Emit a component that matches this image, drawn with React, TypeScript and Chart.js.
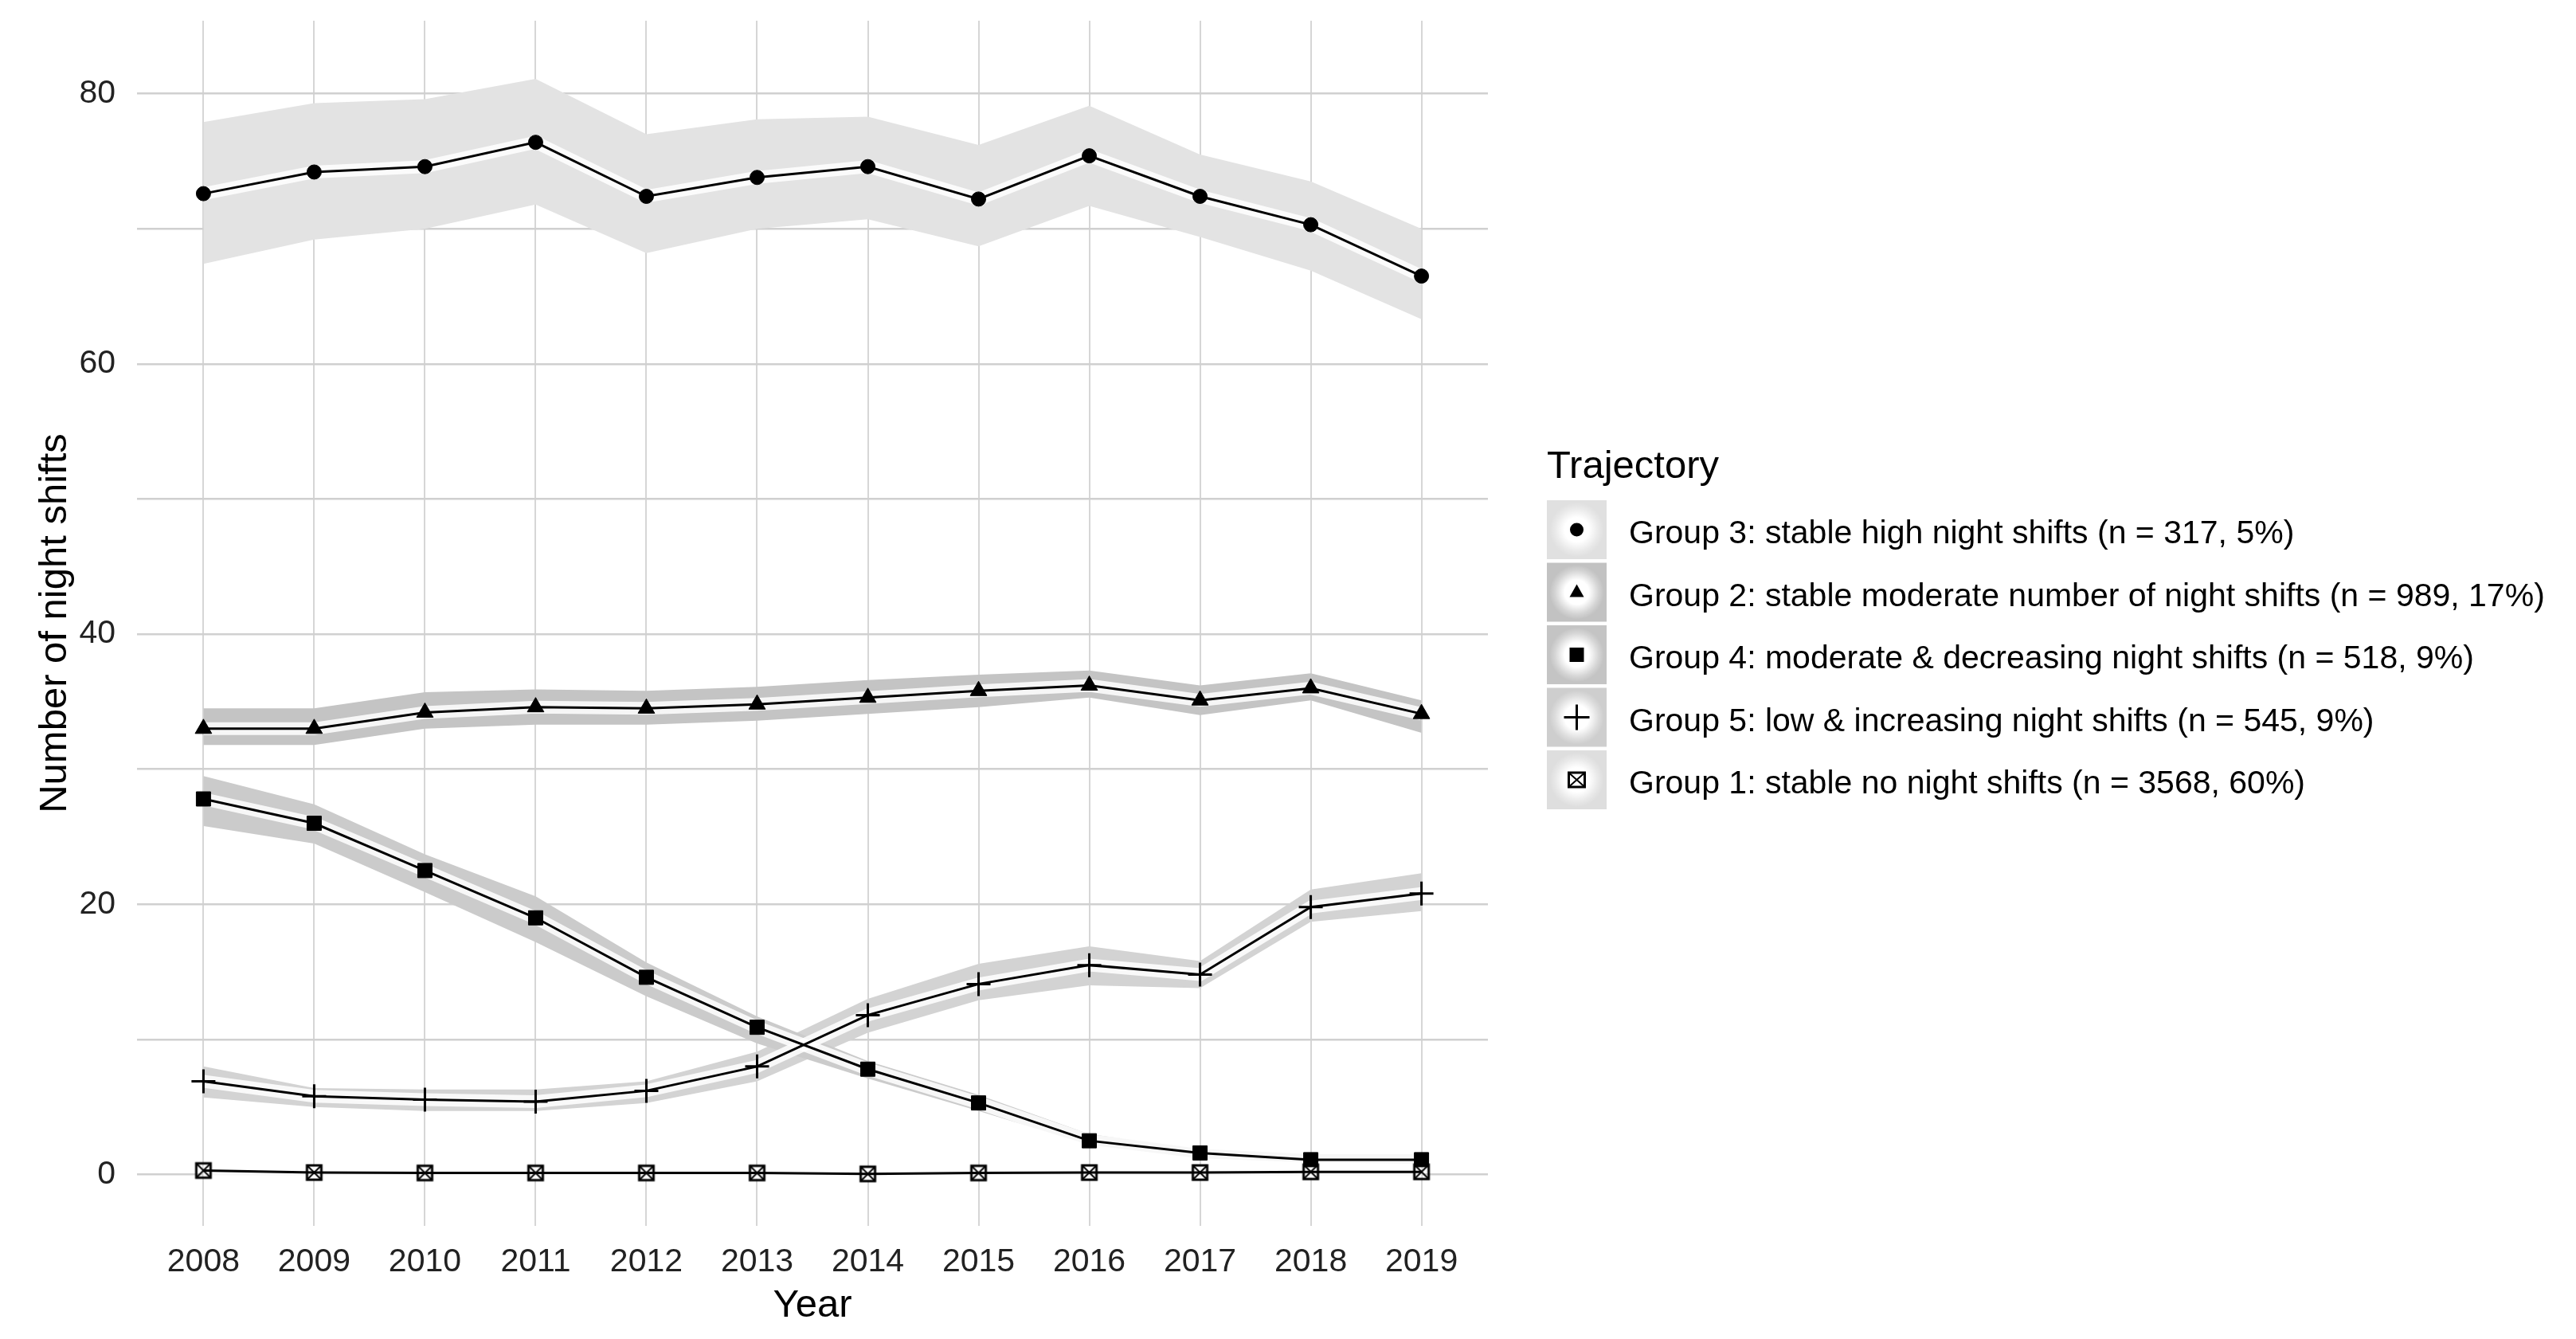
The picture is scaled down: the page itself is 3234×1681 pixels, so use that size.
import React, { useEffect, useRef } from "react";
import { Chart, registerables } from "chart.js";

Chart.register(...registerables);

// ---- data ----
const years = [2008, 2009, 2010, 2011, 2012, 2013, 2014, 2015, 2016, 2017, 2018, 2019];

const g3 = [72.6, 74.2, 74.6, 76.4, 72.4, 73.8, 74.6, 72.2, 75.4, 72.4, 70.3, 66.5];
const g3Upper = [77.9, 79.3, 79.6, 81.1, 77.0, 78.1, 78.3, 76.2, 79.1, 75.5, 73.5, 70.0];
const g3Lower = [67.4, 69.2, 70.0, 71.8, 68.2, 70.0, 70.7, 68.7, 71.7, 69.4, 66.9, 63.3];

const g2 = [33.0, 33.0, 34.2, 34.6, 34.5, 34.8, 35.3, 35.8, 36.2, 35.1, 36.0, 34.1];
const g2Upper = [34.5, 34.5, 35.7, 35.9, 35.8, 36.1, 36.6, 37.0, 37.3, 36.2, 37.1, 35.1];
const g2Lower = [31.8, 31.8, 33.0, 33.3, 33.3, 33.6, 34.1, 34.6, 35.3, 34.0, 35.1, 32.7];

const g4 = [27.8, 26.0, 22.5, 19.0, 14.6, 10.9, 7.8, 5.3, 2.5, 1.6, 1.1, 1.1];
const g4Upper = [29.5, 27.4, 23.7, 20.6, 15.7, 11.7, 8.4, 5.9, 3.0, 1.9, 1.5, 1.5];
const g4Lower = [25.8, 24.5, 20.9, 17.2, 13.2, 9.7, 7.1, 4.7, 2.2, 1.2, 0.9, 0.8];

const g5 = [6.9, 5.8, 5.55, 5.4, 6.2, 8.0, 11.8, 14.1, 15.5, 14.8, 19.8, 20.8];
const g5Upper = [8.0, 6.4, 6.3, 6.3, 6.9, 9.1, 13.0, 15.6, 16.9, 15.8, 21.1, 22.3];
const g5Lower = [5.7, 5.0, 4.7, 4.7, 5.3, 6.9, 10.5, 12.9, 14.0, 13.8, 18.7, 19.5];

const g1 = [0.3, 0.15, 0.12, 0.12, 0.12, 0.12, 0.05, 0.12, 0.15, 0.15, 0.2, 0.2];
const g1Upper = [0.45, 0.28, 0.25, 0.25, 0.25, 0.25, 0.18, 0.25, 0.28, 0.28, 0.33, 0.33];
const g1Lower = [0.15, 0.02, 0.0, 0.0, 0.0, 0.0, -0.08, 0.0, 0.02, 0.02, 0.07, 0.07];

const legendTitle = "Trajectory";
const legendLabels = [
  "Group 3: stable high night shifts (n = 317, 5%)",
  "Group 2: stable moderate number of night shifts (n = 989, 17%)",
  "Group 4: moderate & decreasing night shifts (n = 518, 9%)",
  "Group 5: low & increasing night shifts (n = 545, 9%)",
  "Group 1: stable no night shifts (n = 3568, 60%)",
];
const yTitle = "Number of night shifts";
const xTitle = "Year";

const FONT = "'Liberation Sans', Arial, Helvetica, sans-serif";

type Marker = "circle" | "triangle" | "square" | "plus" | "squarecross";

function makeSquareCross(): HTMLCanvasElement {
  const c = document.createElement("canvas");
  c.width = 24;
  c.height = 24;
  const ctx = c.getContext("2d")!;
  ctx.strokeStyle = "#000";
  ctx.lineWidth = 3;
  ctx.strokeRect(3, 3, 18, 18);
  ctx.lineWidth = 2;
  ctx.beginPath();
  ctx.moveTo(4, 4);
  ctx.lineTo(20, 20);
  ctx.moveTo(20, 4);
  ctx.lineTo(4, 20);
  ctx.stroke();
  return c;
}

function drawMarker(ctx: CanvasRenderingContext2D, m: Marker, x: number, y: number) {
  ctx.save();
  ctx.fillStyle = "#000";
  ctx.strokeStyle = "#000";
  if (m === "circle") {
    ctx.beginPath();
    ctx.arc(x, y, 8.5, 0, Math.PI * 2);
    ctx.fill();
  } else if (m === "triangle") {
    ctx.beginPath();
    ctx.moveTo(x, y - 10);
    ctx.lineTo(x + 9, y + 6);
    ctx.lineTo(x - 9, y + 6);
    ctx.closePath();
    ctx.fill();
  } else if (m === "square") {
    ctx.fillRect(x - 9, y - 9, 18, 18);
  } else if (m === "plus") {
    ctx.lineWidth = 3;
    ctx.beginPath();
    ctx.moveTo(x - 16, y);
    ctx.lineTo(x + 16, y);
    ctx.moveTo(x, y - 16);
    ctx.lineTo(x, y + 16);
    ctx.stroke();
  } else {
    ctx.lineWidth = 3;
    ctx.strokeRect(x - 10, y - 9, 20, 18);
    ctx.lineWidth = 2;
    ctx.beginPath();
    ctx.moveTo(x - 9, y - 8);
    ctx.lineTo(x + 9, y + 8);
    ctx.moveTo(x + 9, y - 8);
    ctx.lineTo(x - 9, y + 8);
    ctx.stroke();
  }
  ctx.restore();
}

function zeroPad(s: any) {
  s.paddingTop = 0;
  s.paddingBottom = 0;
  s.paddingLeft = 0;
  s.paddingRight = 0;
}

export default function App() {
  const ref = useRef<HTMLCanvasElement | null>(null);

  useEffect(() => {
    if (!ref.current) return;
    const sqx = makeSquareCross();

    const groups = [
      { v: g3, up: g3Upper, lo: g3Lower, fill: "#e3e3e3", key: "#e0e0e0", style: "circle" as any, r: 9, marker: "circle" as Marker },
      { v: g2, up: g2Upper, lo: g2Lower, fill: "#c4c4c4", key: "#c2c2c2", style: "triangle" as any, r: 12, marker: "triangle" as Marker },
      { v: g4, up: g4Upper, lo: g4Lower, fill: "#cbcbcb", key: "#c4c4c4", style: "rect" as any, r: 12.7, marker: "square" as Marker },
      { v: g5, up: g5Upper, lo: g5Lower, fill: "#d3d3d3", key: "#cecece", style: "cross" as any, r: 15, marker: "plus" as Marker },
      { v: g1, up: g1Upper, lo: g1Lower, fill: "#dddddd", key: "#dedede", style: sqx as any, r: 10, marker: "squarecross" as Marker },
    ];

    const pts = (arr: number[]) => years.map((x, i) => ({ x, y: arr[i] }));
    const datasets: any[] = [];
    groups.forEach((g) => {
      const loIdx = datasets.length;
      datasets.push({
        data: pts(g.lo),
        borderWidth: 0,
        pointRadius: 0,
        fill: false,
        order: 3,
      });
      datasets.push({
        data: pts(g.up),
        borderWidth: 0,
        pointRadius: 0,
        fill: loIdx,
        backgroundColor: g.fill,
        order: 3,
      });
    });
    groups.forEach((g) => {
      datasets.push({
        data: pts(g.v),
        borderColor: "rgba(255,255,255,0.85)",
        borderWidth: 16,
        pointRadius: 0,
        fill: false,
        order: 2,
      });
    });
    groups.forEach((g) => {
      datasets.push({
        data: pts(g.v),
        borderColor: "#000",
        borderWidth: 3,
        pointStyle: g.style,
        pointRadius: g.r,
        pointBackgroundColor: "#000",
        pointBorderColor: "#000",
        pointBorderWidth: g.marker === "plus" ? 3 : 1,
        fill: false,
        order: 1,
      });
    });

    const legendPlugin = {
      id: "customLegend",
      afterDraw(chart: any) {
        const ctx: CanvasRenderingContext2D = chart.ctx;
        ctx.save();
        ctx.fillStyle = "#000";
        ctx.font = `49px ${FONT}`;
        ctx.textAlign = "left";
        ctx.textBaseline = "alphabetic";
        ctx.fillText(legendTitle, 1942, 600);
        const kx = 1942;
        const kw = 75;
        const kh = 74;
        groups.forEach((g, i) => {
          const ky = 628 + i * 78.5;
          ctx.fillStyle = g.key;
          ctx.fillRect(kx, ky, kw, kh);
          const cx = kx + kw / 2;
          const cy = ky + kh / 2;
          const grad = ctx.createRadialGradient(cx, cy, 0, cx, cy, 34);
          grad.addColorStop(0, "rgba(255,255,255,1)");
          grad.addColorStop(0.45, "rgba(255,255,255,1)");
          grad.addColorStop(0.8, "rgba(255,255,255,0.3)");
          grad.addColorStop(1, "rgba(255,255,255,0)");
          ctx.fillStyle = grad;
          ctx.fillRect(kx, ky, kw, kh);
          drawMarker(ctx, g.marker, cx, cy);
          ctx.fillStyle = "#000";
          ctx.font = `41px ${FONT}`;
          ctx.textBaseline = "middle";
          ctx.fillText(legendLabels[i], 2045, cy + 6);
        });
        ctx.restore();
      },
    };

    const chart = new Chart(ref.current, {
      type: "line",
      data: { datasets },
      options: {
        animation: false,
        responsive: false,
        devicePixelRatio: 1,
        layout: { padding: { left: 0, top: 26, right: 1366, bottom: 0 } },
        plugins: {
          legend: { display: false },
          tooltip: { enabled: false },
        },
        elements: { line: { tension: 0 } },
        scales: {
          x: {
            type: "linear",
            min: 2007.4,
            max: 2019.6,
            afterFit: (s: any) => {
              s.height = 142;
              zeroPad(s);
            },
            ticks: {
              stepSize: 1,
              includeBounds: false,
              padding: 21,
              color: "#222",
              font: { family: FONT, size: 41 },
              callback: (v: any) => String(v),
              maxRotation: 0,
              autoSkip: false,
            },
            grid: { color: "#d6d6d6", lineWidth: 2, drawTicks: false },
            border: { display: false },
            title: {
              display: true,
              text: xTitle,
              color: "#000",
              font: { family: FONT, size: 49 },
              padding: { top: 0, bottom: 12 },
            },
          },
          y: {
            type: "linear",
            min: -3.8,
            max: 85.4,
            afterFit: (s: any) => {
              s.width = 172;
              zeroPad(s);
            },
            ticks: {
              stepSize: 10,
              includeBounds: false,
              padding: 27,
              color: "#222",
              font: { family: FONT, size: 41 },
              callback: (v: any) => (Math.round(v) % 20 === 0 ? String(v) : ""),
              autoSkip: false,
            },
            grid: { color: "#d0d0d0", lineWidth: 2.5, drawTicks: false },
            border: { display: false },
            title: {
              display: true,
              text: yTitle,
              color: "#000",
              font: { family: FONT, size: 49 },
              padding: { top: 40, bottom: 0 },
            },
          },
        },
      },
      plugins: [legendPlugin],
    });

    return () => chart.destroy();
  }, []);

  return (
    <div style={{ position: "fixed", left: 0, top: 0, width: 3234, height: 1681, background: "#fff" }}>
      <canvas ref={ref} width={3234} height={1681} style={{ display: "block", width: 3234, height: 1681 }} />
    </div>
  );
}
